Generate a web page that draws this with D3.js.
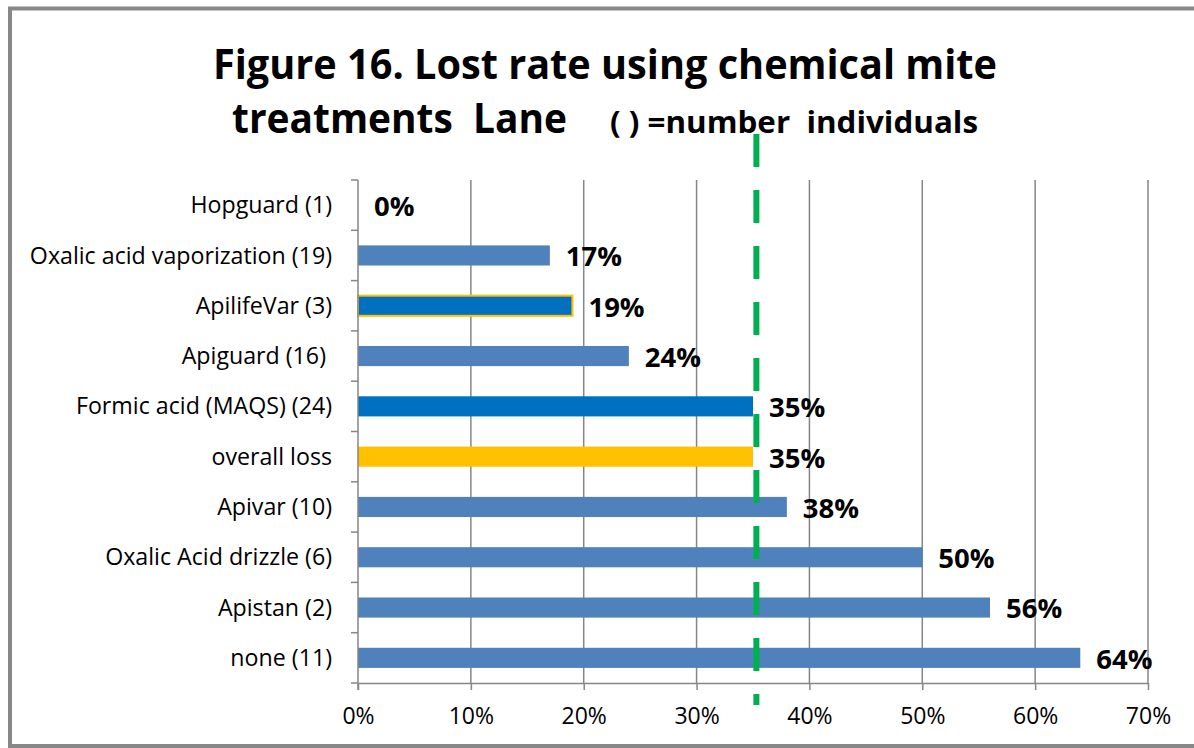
<!DOCTYPE html>
<html>
<head>
<meta charset="utf-8">
<script src="https://cdn.jsdelivr.net/npm/d3@7"></script>
<style>
  html, body { margin: 0; padding: 0; background: #fff; }
  svg { display: block; }
  text { font-family: "Open Sans", "Liberation Sans", sans-serif; fill: #000; }
</style>
</head>
<body>
<svg id="chart" width="1194" height="748"></svg>
<script>
// ---- data ----
const categories = ["Hopguard (1)", "Oxalic acid vaporization (19)", "ApilifeVar (3)", "Apiguard (16) ",
  "Formic acid (MAQS) (24)", "overall loss", "Apivar (10)", "Oxalic Acid drizzle (6)", "Apistan (2)", "none (11)"];
const values = [0, 17, 19, 24, 35, 35, 38, 50, 56, 64];
const barColors = ["#4F81BD", "#4F81BD", "#0070C0", "#4F81BD", "#0070C0", "#FFC000", "#4F81BD", "#4F81BD", "#4F81BD", "#4F81BD"];
const barStrokes = [null, null, "#FFC000", null, null, null, null, null, null, null];
const xTicks = [0, 10, 20, 30, 40, 50, 60, 70];
const referenceLine = 35.3;
const titleLine1 = "Figure 16. Lost rate using chemical mite";
const titleLine2a = "treatments  Lane";
const titleLine2b = "( ) =number  individuals";

const svg = d3.select("#chart");
const W = 1194, H = 748;

// frame
svg.append("rect").attr("x", 10).attr("y", 8.5).attr("width", W + 20).attr("height", 737.5)
  .attr("fill", "#fff").attr("stroke", "#888888").attr("stroke-width", 4);

const pLeft = 358, pRight = 1148, pTop = 180, pBottom = 683;

const x = d3.scaleLinear().domain([0, 70]).range([pLeft, pRight]);
const y = d3.scaleBand().domain(categories).range([pTop, pBottom]).paddingInner(0.6).paddingOuter(0.3);
const yb = d3.scaleLinear().domain([0, categories.length]).range([pTop, pBottom]);

// gridlines
svg.append("g").selectAll("line").data(xTicks.slice(1)).join("line")
  .attr("x1", d => x(d)).attr("x2", d => x(d)).attr("y1", pTop).attr("y2", pBottom)
  .attr("stroke", "#868686").attr("stroke-width", 1.5);

// bars
svg.append("g").selectAll("rect").data(values).join("rect")
  .attr("x", x(0))
  .attr("y", (d, i) => y(categories[i]))
  .attr("width", d => x(d) - x(0))
  .attr("height", y.bandwidth())
  .attr("fill", (d, i) => barColors[i])
  .attr("stroke", (d, i) => barStrokes[i] || "none")
  .attr("stroke-width", 2);

// y axis line + ticks
svg.append("line").attr("x1", pLeft).attr("x2", pLeft).attr("y1", pTop).attr("y2", pBottom + 7)
  .attr("stroke", "#868686").attr("stroke-width", 1.5);
svg.append("g").selectAll("line").data(d3.range(categories.length + 1)).join("line")
  .attr("x1", pLeft - 7).attr("x2", pLeft).attr("y1", d => yb(d)).attr("y2", d => yb(d))
  .attr("stroke", "#868686").attr("stroke-width", 1.5);

// x axis
const xAxis = d3.axisBottom(x).tickValues(xTicks).tickFormat(d => d + "%").tickSize(7).tickPadding(18);
const gx = svg.append("g").attr("transform", `translate(0,${pBottom})`).call(xAxis);
gx.select(".domain").attr("stroke", "#868686").attr("stroke-width", 1.5).attr("d", `M${pLeft},0.5H${pRight}`);
gx.selectAll(".tick line").attr("stroke", "#868686").attr("stroke-width", 1.5);
gx.selectAll(".tick text").attr("font-size", 23).attr("font-family", "'Open Sans', sans-serif").attr("fill", "#000");

// category labels
svg.append("g").selectAll("text").data(categories).join("text")
  .attr("x", pLeft - 26)
  .attr("y", d => y(d) + y.bandwidth() / 2)
  .attr("dy", "0.35em")
  .attr("text-anchor", "end")
  .attr("font-size", 23.2)
  .style("white-space", "pre")
  .text(d => d);

// value labels
svg.append("g").selectAll("text").data(values).join("text")
  .attr("x", d => x(d) + 16)
  .attr("y", (d, i) => y(categories[i]) + y.bandwidth() / 2 + 1)
  .attr("dy", "0.36em")
  .attr("font-size", 27.5)
  .attr("font-weight", "bold")
  .text(d => d + "%");

// reference dashed line
svg.append("line")
  .attr("x1", x(referenceLine)).attr("x2", x(referenceLine))
  .attr("y1", 134).attr("y2", 705)
  .attr("stroke", "#00B050").attr("stroke-width", 6)
  .attr("stroke-dasharray", "33 23");

// title
svg.append("text").attr("x", 605).attr("y", 79).attr("text-anchor", "middle")
  .attr("font-family", "Lato, sans-serif")
  .attr("font-size", 42).attr("font-weight", "bold")
  .attr("textLength", 784).attr("lengthAdjust", "spacingAndGlyphs")
  .text(titleLine1);
svg.append("text").attr("x", 232).attr("y", 133)
  .attr("font-family", "Lato, sans-serif")
  .attr("font-size", 42).attr("font-weight", "bold")
  .style("white-space", "pre")
  .attr("textLength", 335).attr("lengthAdjust", "spacingAndGlyphs")
  .text(titleLine2a);
svg.append("text").attr("x", 610).attr("y", 133)
  .attr("font-family", "Lato, sans-serif")
  .attr("font-size", 31).attr("font-weight", "bold")
  .style("white-space", "pre")
  .attr("textLength", 368).attr("lengthAdjust", "spacingAndGlyphs")
  .text(titleLine2b);
</script>
</body>
</html>
